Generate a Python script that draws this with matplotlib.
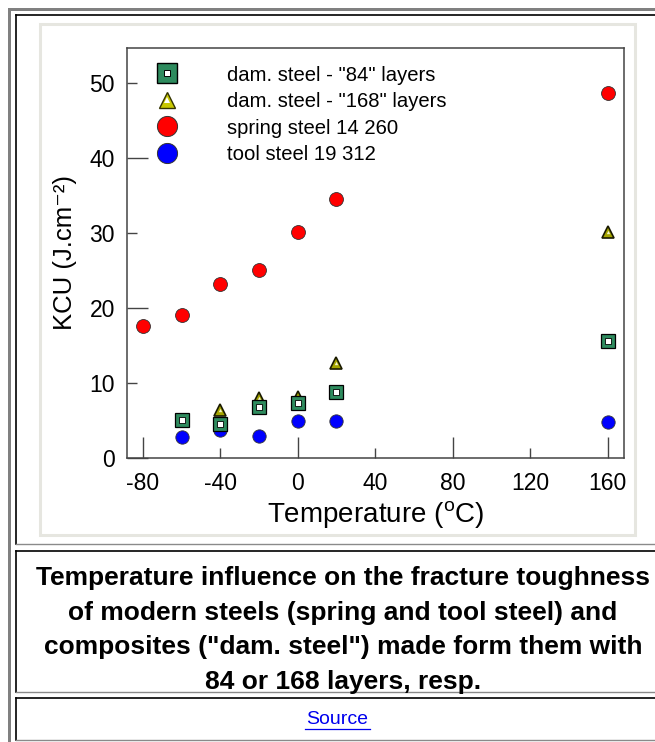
import matplotlib
matplotlib.use("Agg")
import matplotlib.pyplot as plt
from matplotlib.lines import Line2D
from matplotlib.patches import Rectangle
from matplotlib.legend_handler import HandlerTuple

plt.rcParams['font.family'] = ['Liberation Sans', 'DejaVu Sans']
plt.rcParams['mathtext.fontset'] = 'custom'
plt.rcParams['mathtext.rm'] = 'Liberation Sans'
plt.rcParams['axes.unicode_minus'] = False

# data (temperature in degC, KCU in J/cm2)
temp_84 = [-60, -40, -20, 0, 20, 160]
kcu_84 = [5.1, 4.6, 6.8, 7.4, 8.8, 15.6]

temp_168 = [-40, -20, 0, 20, 160]
kcu_168 = [6.4, 8.0, 8.2, 12.7, 30.2]

temp_spring = [-80, -60, -40, -20, 0, 20, 160]
kcu_spring = [17.6, 19.1, 23.2, 25.1, 30.1, 34.5, 48.7]

temp_tool = [-60, -40, -20, 0, 20, 160]
kcu_tool = [2.8, 3.8, 3.0, 4.9, 5.0, 4.8]

labels = ['dam. steel - "84" layers', 'dam. steel - "168" layers',
          'spring steel 14 260', 'tool steel 19 312']

x_major = [-80, 0, 80, 160]
x_minor = [-40, 40, 120]
y_major = [0, 20, 40]
y_minor = [10, 30, 50]

W, H = 655, 742
GREEN = '#2e8b5e'
OLIVE = '#a5a500'
AX_COL = '#444444'


def fx(x):
    return x / W


def fy(y):
    return 1 - y / H


fig = plt.figure(figsize=(W / 100, H / 100), dpi=100)


def hline(y, x0, x1, color, lw):
    fig.add_artist(Line2D([fx(x0), fx(x1)], [fy(y), fy(y)], color=color, lw=lw,
                          transform=fig.transFigure, zorder=-5))


def vline(x, y0, y1, color, lw):
    fig.add_artist(Line2D([fx(x), fx(x)], [fy(y0), fy(y1)], color=color, lw=lw,
                          transform=fig.transFigure, zorder=-5))


# page frame (html table look)
fig.add_artist(Rectangle((fx(8), 0), fx(3), fy(8), color='#808080',
                         transform=fig.transFigure, lw=0, zorder=-5))
fig.add_artist(Rectangle((fx(8), fy(11)), 1, 3 / H, color='#808080',
                         transform=fig.transFigure, lw=0, zorder=-5))
for top, bottom in [(15, 544), (551, 692), (698, 740)]:
    hline(top, 16, W, 'black', 1.2)
    vline(16, top, bottom, 'black', 1.2)
    hline(bottom, 16, W, '#8a8a8a', 1.0)

# image panel with light border
fig.add_artist(Rectangle((fx(39.5), fy(534.5)), (634.5 - 39.5) / W, (534.5 - 24) / H,
                         facecolor='white', edgecolor='#e6e6e0', lw=2.2,
                         transform=fig.transFigure, zorder=-4))

ax = fig.add_axes([fx(127.3), fy(458), (624 - 127.3) / W, (458 - 48) / H])
ax.set_zorder(2)

ax.plot(temp_tool, kcu_tool, 'o', ls='none', ms=9.6, mfc='#0000ff', mec='#333333',
        mew=0.6, zorder=2)
ax.plot(temp_spring, kcu_spring, 'o', ls='none', ms=10, mfc='#ff0000', mec='#333333',
        mew=0.6, zorder=2)
ax.plot(temp_168, kcu_168, '^', ls='none', ms=8, mfc=OLIVE, mec='#1a1a00',
        mew=1.2, zorder=3)
ax.plot(temp_168, kcu_168, '^', ls='none', ms=2.4, mfc='#f4f4d0', mec='none',
        mew=0, zorder=3)
ax.plot(temp_84, kcu_84, 's', ls='none', ms=9.8, mfc=GREEN, mec='black',
        mew=0.9, zorder=4)
ax.plot(temp_84, kcu_84, 's', ls='none', ms=4.2, mfc='white', mec='black',
        mew=0.6, zorder=4)

ax.set_xlim(-88, 168.5)
ax.set_ylim(0, 54.7)

ax.set_xticks(x_major, labels=[str(v) for v in x_major])
ax.set_xticks(x_minor, labels=[str(v) for v in x_minor], minor=True)
ax.set_yticks(y_major, labels=[str(v) for v in y_major])
ax.set_yticks(y_minor, labels=[str(v) for v in y_minor], minor=True)
ax.tick_params(which='both', direction='in', color=AX_COL, width=1.0,
               labelsize=16.5)
ax.tick_params(axis='x', which='both', pad=10)
ax.tick_params(axis='y', which='both', pad=9)
ax.tick_params(which='major', length=15)
ax.tick_params(which='minor', length=7.5)
for sp in ax.spines.values():
    sp.set_color(AX_COL)
    sp.set_linewidth(1.1)

ax.set_xlabel('Temperature ($^{\\mathrm{o}}$C)', fontsize=20, labelpad=3)
ax.set_ylabel('KCU (J.cm\u207b\u00b2)', fontsize=18.5, labelpad=9)

# legend proxies
h84 = (Line2D([], [], marker='s', ls='none', ms=14.5, mfc=GREEN, mec='black', mew=1.0),
       Line2D([], [], marker='s', ls='none', ms=5.0, mfc='white', mec='black', mew=0.7))
h168 = (Line2D([], [], marker='^', ls='none', ms=11.5, mfc='#c8c800', mec='#333300', mew=1.0),
        Line2D([], [], marker='^', ls='none', ms=4.2, mfc='white', mec='none', mew=0))
hsp = Line2D([], [], marker='o', ls='none', ms=14.5, mfc='#ff0000', mec='#333333', mew=0.7)
hto = Line2D([], [], marker='o', ls='none', ms=14.5, mfc='#0000ff', mec='#333333', mew=0.7)

ax.legend([h84, h168, hsp, hto], labels, handler_map={tuple: HandlerTuple(ndivide=1)},
          loc='upper left', bbox_to_anchor=(0.019, 0.982), frameon=False,
          fontsize=14.6, borderpad=0, handlelength=2, handletextpad=1.96,
          labelspacing=0.37, numpoints=1)

# caption
caption = ['Temperature influence on the fracture toughness',
           'of modern steels (spring and tool steel) and',
           'composites ("dam. steel") made form them with',
           '84 or 168 layers, resp.']
for i, line in enumerate(caption):
    fig.text(fx(343), fy(578 + 34.6 * i), line, ha='center', va='center',
             fontsize=19, fontweight='bold')

fig.text(fx(337), fy(719), 'Source', ha='center', va='center',
         fontsize=14, color='#0000ee')
hline(729, 305, 370, '#0000ee', 0.9)

fig.savefig('out.png', dpi=100)
